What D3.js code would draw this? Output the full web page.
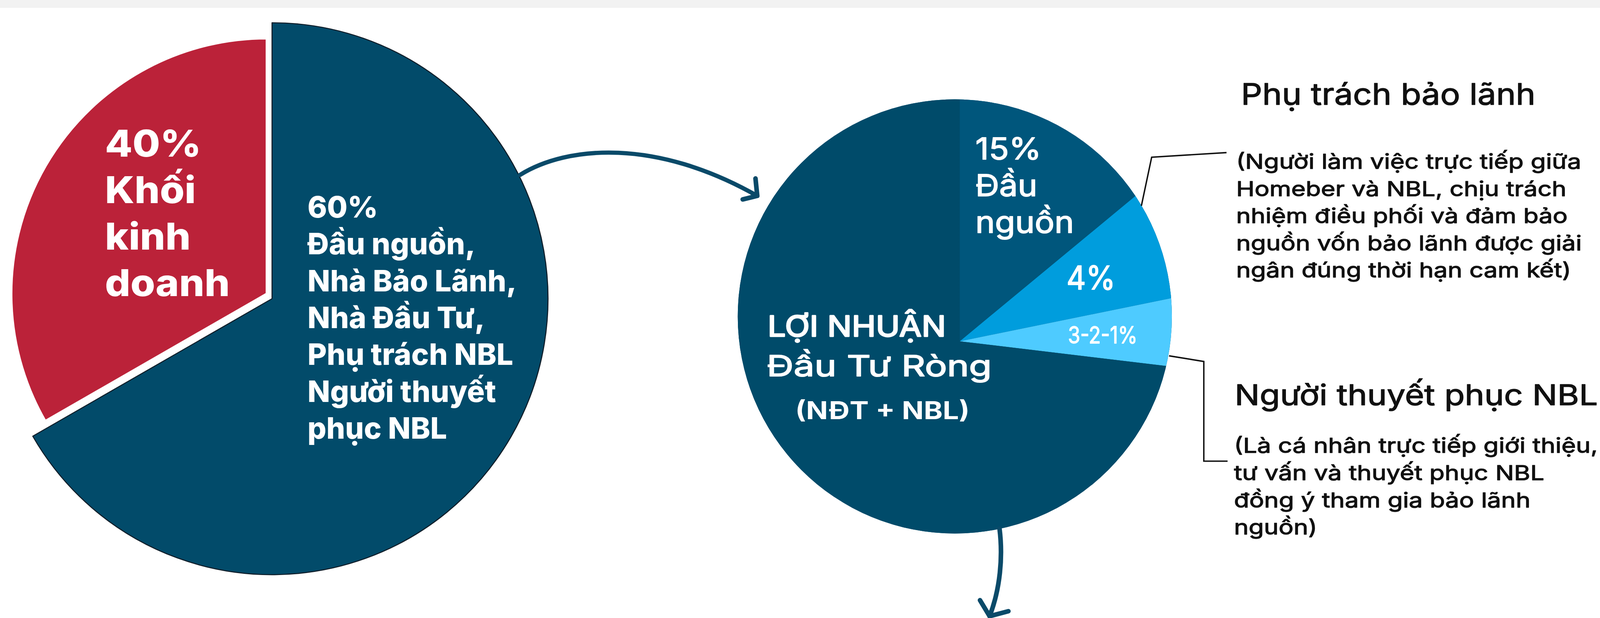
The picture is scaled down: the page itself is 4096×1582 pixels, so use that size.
<!DOCTYPE html>
<html><head><meta charset="utf-8">
<script src="https://cdn.jsdelivr.net/npm/d3@7"></script>
<style>html,body{margin:0;padding:0;background:#fff;overflow:hidden}</style>
</head><body>
<svg id="chart" width="4096" height="1582" viewBox="0 0 4511 1742"></svg>
<script>
// ---------- data ----------
// Left pie: split of the whole (labels as printed, shares as drawn in the picture)
const splitKeys   = ["chain", "sales"];
const splitShares = [66.7, 33.3];
const splitLabel  = [
  ["60%", "Đầu nguồn,", "Nhà Bảo Lãnh,", "Nhà Đầu Tư,", "Phụ trách NBL", "Người thuyết", "phục NBL"],
  ["40%", "Khối", "kinh", "doanh"]
];
// Right pie: net investment profit split (shares as drawn)
const profitKeys   = ["upstream", "guarantee", "persuader", "rest"];
const profitShares = [14.0, 7.8, 5.1, 73.1];
const profitLabel  = [["15%", "Đầu", "nguồn"], ["4%"], ["3-2-1%"], []];
const centerTitle  = ["LỢI NHUẬN", "Đầu Tư Ròng", "(NĐT + NBL)"];
// Callouts
const callout1Title = "Phụ trách bảo lãnh";
const callout1Text  = ["(Người làm việc trực tiếp giữa", "Homeber và NBL, chịu trách", "nhiệm điều phối và đảm bảo", "nguồn vốn bảo lãnh được giải", "ngân đúng thời hạn cam kết)"];
const callout2Title = "Người thuyết phục NBL";
const callout2Text  = ["(Là cá nhân trực tiếp giới thiệu,", "tư vấn và thuyết phục NBL", "đồng ý tham gia bảo lãnh", "nguồn)"];

// ---------- setup ----------
const svg = d3.select("#chart");
const FONT = "Inter, 'Noto Sans', sans-serif";
svg.append("rect").attr("x",0).attr("y",0).attr("width",4511).attr("height",1742).attr("fill","#ffffff");
svg.append("rect").attr("x",0).attr("y",0).attr("width",4511).attr("height",22).attr("fill","#f2f2f2");

const defs = svg.append("defs");
const g1 = defs.append("linearGradient").attr("id","gUp").attr("gradientUnits","userSpaceOnUse")
  .attr("x1",2706).attr("y1",300).attr("x2",2706).attr("y2",962);
g1.append("stop").attr("offset",0).attr("stop-color","#00567c");
g1.append("stop").attr("offset",1).attr("stop-color","#0092d0");
const g2 = defs.append("linearGradient").attr("id","gGu").attr("gradientUnits","userSpaceOnUse")
  .attr("x1",2760).attr("y1",940).attr("x2",3060).attr("y2",770);
g2.append("stop").attr("offset",0).attr("stop-color","#009ddd");
g2.append("stop").attr("offset",1).attr("stop-color","#00b8fa");
defs.append("clipPath").attr("id","rclip").append("circle").attr("cx",2692).attr("cy",892).attr("r",612);

// text block helper: fits the reference line to a target width by horizontal scaling
function block(lines, x, y0, gap, size, weight, fill, refIdx, refW, emb){
  const g = svg.append("g");
  const t = g.selectAll("text").data(lines).join("text")
    .attr("x",0).attr("y",(d,i)=>y0+i*gap)
    .attr("font-family",FONT).attr("font-size",size).attr("font-weight",weight)
    .attr("fill",fill).text(d=>d);
  if (emb) t.attr("stroke",fill).attr("stroke-width",emb).attr("stroke-linejoin","round");
  let sx = 1;
  if (refW){ const w = t.nodes()[refIdx].getComputedTextLength(); if (w>0) sx = Math.max(0.75, Math.min(1.35, refW/w)); }
  g.attr("transform",`translate(${x},0) scale(${sx},1)`);
  return g;
}

// ---------- left pie ----------
const pieL = d3.pie().sort(null).value(d=>d)(splitShares);
const leftGeom = [
  {cx:767, cy:842, r:778, fill:"#024b6a", stroke:"#0e1e2a", sw:3},
  {cx:752, cy:828, r:720, fill:"#bb2239", stroke:"#ffffff", sw:6}
];
pieL.forEach((p,i)=>{
  const G = leftGeom[i];
  svg.append("path")
    .attr("d", d3.arc().innerRadius(0).outerRadius(G.r)(p))
    .attr("transform",`translate(${G.cx},${G.cy})`)
    .attr("fill",G.fill).attr("stroke",G.stroke).attr("stroke-width",G.sw).attr("stroke-linejoin","round");
});
// labels
block(splitLabel[0], 867, 613, 104, 84, 800, "#ffffff", 4, 580);
block(splitLabel[1], 296, 442, 131, 105, 800, "#ffffff", 3, 352);

// ---------- right pie ----------
svg.append("circle").attr("cx",2692).attr("cy",892).attr("r",612).attr("fill","#004b6a");
const pieR = d3.pie().sort(null).value(d=>d)(profitShares);
const rFill = ["url(#gUp)","url(#gGu)","#4ecbff","#004b6a"];
const arcR = d3.arc().innerRadius(0).outerRadius(900);
svg.append("g").attr("clip-path","url(#rclip)")
  .selectAll("path").data(pieR).join("path")
  .attr("d",arcR).attr("transform","translate(2706,962)")
  .attr("fill",(d,i)=>rFill[i]);

block(profitLabel[0], 2750, 449, 103.5, 85, 400, "#ffffff", 2, 278, 2.2);
block(profitLabel[1], 3007, 816, 0, 92, 400, "#ffffff", 0, 138, 2.4);
block(profitLabel[2], 3011, 968, 0, 66, 400, "#ffffff", 0, 196, 1.8);

block([centerTitle[0]], 2164, 948, 0, 81, 400, "#ffffff", 0, 503, 3.6);
block([centerTitle[1]], 2162, 1060, 0, 82, 400, "#ffffff", 0, 634, 2.4);
block([centerTitle[2]], 2242, 1182, 0, 69, 700, "#ffffff", 0, 492);

// ---------- arrows ----------
const arrowC = "#0a4a69";
svg.append("path").attr("d","M1466,493 C1600,410 1850,390 2135,552")
  .attr("fill","none").attr("stroke",arrowC).attr("stroke-width",12).attr("stroke-linecap","round");
svg.append("path").attr("d","M2130,503 L2135,552 L2094,562")
  .attr("fill","none").attr("stroke",arrowC).attr("stroke-width",13).attr("stroke-linecap","round").attr("stroke-linejoin","round");
svg.append("path").attr("d","M2818,1490 C2828,1570 2820,1660 2790,1737")
  .attr("fill","none").attr("stroke",arrowC).attr("stroke-width",13).attr("stroke-linecap","round");
svg.append("path").attr("d","M2763,1692 L2790,1737 L2843,1723")
  .attr("fill","none").attr("stroke",arrowC).attr("stroke-width",13).attr("stroke-linecap","round").attr("stroke-linejoin","round");

// ---------- callout lines ----------
svg.append("path").attr("d","M3218,580 L3247,443 L3458,430")
  .attr("fill","none").attr("stroke","#111111").attr("stroke-width",4);
svg.append("path").attr("d","M3296,1003 L3394,1019 L3394,1300 L3461,1300")
  .attr("fill","none").attr("stroke","#111111").attr("stroke-width",4);

// ---------- callout texts ----------
block([callout1Title], 3499, 295, 0, 84, 400, "#111111", 0, 830, 1.8);
block(callout1Text, 3485, 476, 76.5, 58, 400, "#111111", 0, 973, 1.6);
block([callout2Title], 3481, 1142, 0, 81, 400, "#111111", 0, 1024, 1.8);
block(callout2Text, 3479, 1276, 77, 58, 400, "#111111", 0, 1026, 1.6);
</script>
</body></html>
